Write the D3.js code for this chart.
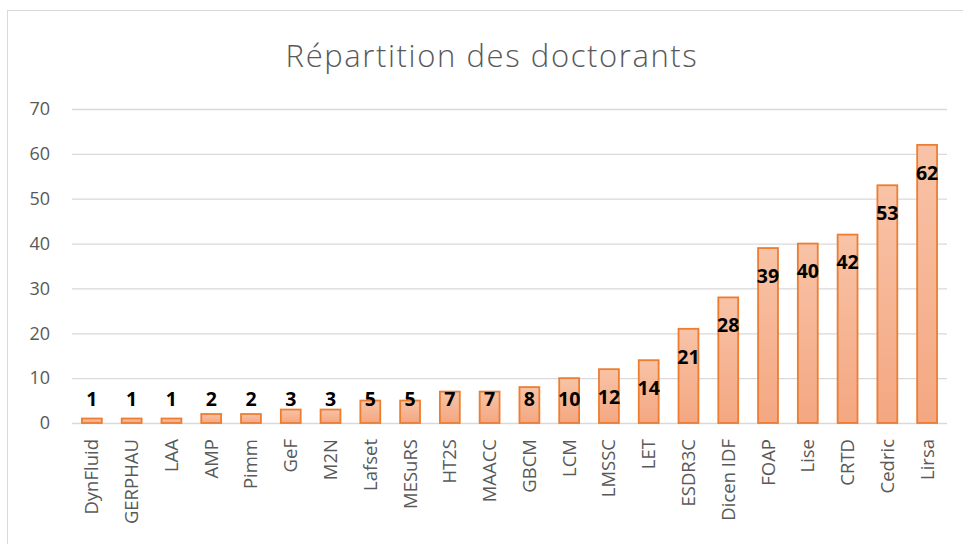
<!DOCTYPE html>
<html>
<head>
<meta charset="utf-8">
<script src="https://d3js.org/d3.v7.min.js"></script>
<style>
  body { margin: 0; background: #fff; }
  text { font-family: "Open Sans", "Liberation Sans", sans-serif; }
</style>
</head>
<body>
<script>
  // data
  var labos = ["DynFluid", "GERPHAU", "LAA", "AMP", "Pimm", "GeF", "M2N", "Lafset", "MESuRS", "HT2S",
               "MAACC", "GBCM", "LCM", "LMSSC", "LET", "ESDR3C", "Dicen IDF", "FOAP", "Lise", "CRTD",
               "Cedric", "Lirsa"];
  var doctorants = [1, 1, 1, 2, 2, 3, 3, 5, 5, 7, 7, 8, 10, 12, 14, 21, 28, 39, 40, 42, 53, 62];
  var yTicks = [0, 10, 20, 30, 40, 50, 60, 70];
  var title = "Répartition des doctorants";

  var W = 963, H = 544;
  var svg = d3.select("body").append("svg").attr("width", W).attr("height", H);

  var grad = svg.append("defs").append("linearGradient")
      .attr("id", "barFill").attr("x1", 0).attr("y1", 0).attr("x2", 0).attr("y2", 1);
  grad.append("stop").attr("offset", "0%").attr("stop-color", "#f8c3a7");
  grad.append("stop").attr("offset", "100%").attr("stop-color", "#f4a781");

  // chart frame (right and bottom edges are off the picture)
  svg.append("rect").attr("x", 7.5).attr("y", 10.5).attr("width", 980).attr("height", 560)
     .attr("fill", "none").attr("stroke", "#d9d9d9").attr("stroke-width", 1);

  svg.append("text").attr("x", 492).attr("y", 67).attr("text-anchor", "middle")
     .attr("font-size", 31).attr("font-weight", 300).attr("fill", "#595959")
     .attr("letter-spacing", 1.6)
     .text(title);

  var x = d3.scaleBand().domain(labos).range([72, 947]).paddingInner(0.5).paddingOuter(0.25);
  var y = d3.scaleLinear().domain([0, 70]).range([423, 109]);

  // gridlines
  svg.append("g").selectAll("line").data(yTicks).join("line")
     .attr("x1", 72).attr("x2", 947)
     .attr("y1", function(d) { return y(d) + 0.5; }).attr("y2", function(d) { return y(d) + 0.5; })
     .attr("stroke", "#d9d9d9").attr("stroke-width", 1.3);

  var yAxis = svg.append("g").attr("transform", "translate(72,0)")
     .call(d3.axisLeft(y).tickValues(yTicks).tickSize(0).tickPadding(22));
  yAxis.select(".domain").remove();
  yAxis.selectAll("text").attr("font-size", 18).attr("fill", "#595959")
     .style("font-family", "'Open Sans', sans-serif");

  svg.selectAll(".bar").data(doctorants).join("rect")
     .attr("class", "bar")
     .attr("x", function(d, i) { return x(labos[i]); })
     .attr("y", function(d) { return y(d); })
     .attr("width", x.bandwidth())
     .attr("height", function(d) { return y(0) - y(d); })
     .attr("fill", "url(#barFill)")
     .attr("stroke", "#ed7d31").attr("stroke-width", 1.8);

  // value labels, inside end (pushed up for small bars)
  svg.selectAll(".val").data(doctorants).join("text")
     .attr("class", "val")
     .attr("x", function(d, i) { return x(labos[i]) + x.bandwidth() / 2; })
     .attr("y", function(d) { return Math.min(y(d) + 28, y(0) - 24); })
     .attr("dy", "0.35em")
     .attr("text-anchor", "middle")
     .attr("font-size", 19.5).attr("font-weight", "bold").attr("fill", "#000")
     .text(function(d) { return d; });

  var xAxis = svg.append("g").attr("transform", "translate(0," + y(0) + ")")
     .call(d3.axisBottom(x).tickSize(0));
  xAxis.select(".domain").remove();
  xAxis.selectAll("text")
     .attr("transform", "rotate(-90)")
     .attr("text-anchor", "end")
     .attr("x", -16).attr("y", 0).attr("dy", "0.35em")
     .attr("font-size", 18.5).attr("fill", "#595959")
     .style("font-family", "'Open Sans', sans-serif");
</script>
</body>
</html>
